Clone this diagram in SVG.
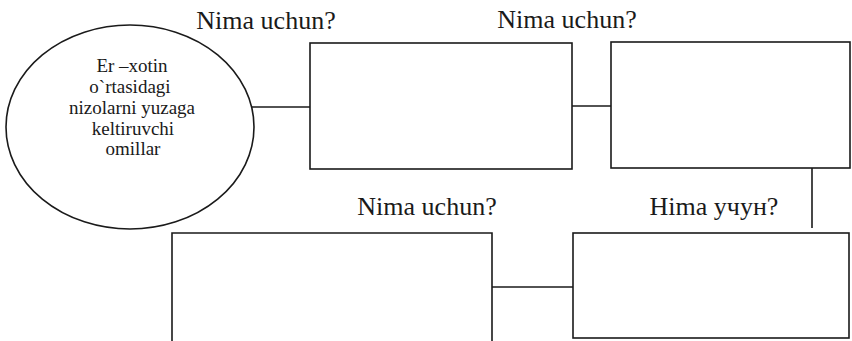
<svg xmlns="http://www.w3.org/2000/svg" width="852" height="341" viewBox="0 0 852 341">
  <style>
    .box { fill: none; stroke: #1a1a1a; stroke-width: 1.6; }
    .edge { fill: none; stroke: #1a1a1a; stroke-width: 1.6; }
    .lbl { font-family: 'Liberation Serif', 'DejaVu Serif', serif; font-size: 26px; fill: #1a1a1a; text-anchor: middle; }
    .inner { font-family: 'Liberation Serif', 'DejaVu Serif', serif; font-size: 19px; fill: #1a1a1a; text-anchor: middle; }
  </style>
  <rect width="852" height="341" fill="#ffffff"/>

  <g id="connectors">
    <line class="edge" x1="251.6" y1="107" x2="310" y2="107"/>
    <line class="edge" x1="572" y1="106" x2="611" y2="106"/>
    <line class="edge" x1="812" y1="168" x2="812" y2="228"/>
    <line class="edge" x1="492" y1="287" x2="573" y2="287"/>
  </g>

  <g id="node-factors">
    <ellipse class="box" cx="130" cy="127" rx="124" ry="102"/>
    <text class="inner" x="132" y="72">Er –xotin</text>
    <text class="inner" x="130" y="93">o`rtasidagi</text>
    <text class="inner" x="132" y="114">nizolarni yuzaga</text>
    <text class="inner" x="133" y="135">keltiruvchi</text>
    <text class="inner" x="133" y="155">omillar</text>
  </g>

  <g id="node-why1">
    <text class="lbl" x="266" y="29">Nima uchun?</text>
    <rect class="box" x="310" y="43" width="262" height="126"/>
  </g>

  <g id="node-why2">
    <text class="lbl" x="567" y="28">Nima uchun?</text>
    <rect class="box" x="611" y="42" width="239" height="126"/>
  </g>

  <g id="node-why3">
    <text class="lbl" x="714" y="215">Hima учун?</text>
    <rect class="box" x="573" y="233" width="276" height="105"/>
  </g>

  <g id="node-why4">
    <text class="lbl" x="427" y="215">Nima uchun?</text>
    <path class="box" d="M172,345 V233 H492 V345"/>
  </g>
</svg>
